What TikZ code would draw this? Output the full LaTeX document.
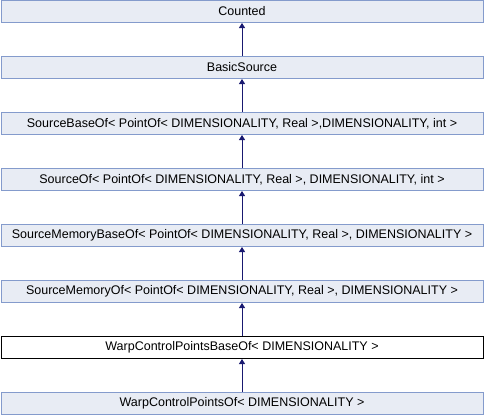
\documentclass[tikz,border=0pt]{standalone}
\usepackage{fontspec}
\setmainfont{Liberation Sans}
\usetikzlibrary{arrows.meta}
\definecolor{boxfill}{RGB}{232,236,244}
\definecolor{boxline}{RGB}{132,155,204}
\definecolor{arrowc}{RGB}{25,25,112}
\tikzset{
  cls/.style={draw=boxline, fill=boxfill, line width=1pt, minimum width=482pt, minimum height=22pt, inner sep=0pt, font=\fontsize{12.5}{14}\selectfont},
  hl/.style={cls, draw=black, fill=white},
  inh/.style={draw=arrowc, line width=1pt, -{Triangle[length=5pt,width=6pt]}}
}
\begin{document}
\begin{tikzpicture}[x=1pt,y=-1pt]
\useasboundingbox (0,0) rectangle (484,416);
\node[cls] (n1) at (242,11.5) {Counted};
\node[cls] (n2) at (242,67.5) {BasicSource};
\node[cls] (n3) at (242,123.5) {SourceBaseOf< PointOf< DIMENSIONALITY, Real >,DIMENSIONALITY, int >};
\node[cls] (n4) at (242,179.5) {SourceOf< PointOf< DIMENSIONALITY, Real >, DIMENSIONALITY, int >};
\node[cls] (n5) at (242,235.5) {SourceMemoryBaseOf< PointOf< DIMENSIONALITY, Real >, DIMENSIONALITY >};
\node[cls] (n6) at (242,291.5) {SourceMemoryOf< PointOf< DIMENSIONALITY, Real >, DIMENSIONALITY >};
\node[hl] (n7) at (242,347.5) {WarpControlPointsBaseOf< DIMENSIONALITY >};
\node[cls] (n8) at (242,403.5) {WarpControlPointsOf< DIMENSIONALITY >};
\draw[inh] (n2) -- (n1);
\draw[inh] (n3) -- (n2);
\draw[inh] (n4) -- (n3);
\draw[inh] (n5) -- (n4);
\draw[inh] (n6) -- (n5);
\draw[inh] (n7) -- (n6);
\draw[inh] (n8) -- (n7);
\end{tikzpicture}
\end{document}
